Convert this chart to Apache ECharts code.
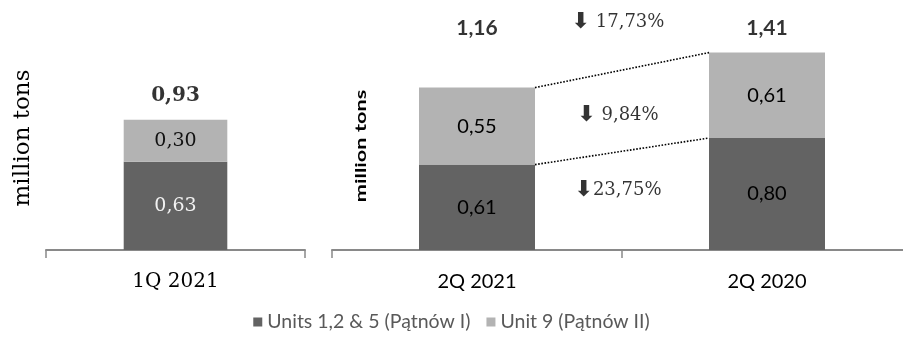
<!DOCTYPE html>
<html>
<head>
<meta charset="utf-8">
<script src="https://cdn.jsdelivr.net/npm/echarts@6/dist/echarts.min.js"></script>
<style>
  html, body { margin: 0; padding: 0; background: #ffffff; }
  #chart { width: 903px; height: 351px; }
</style>
</head>
<body>
<div id="chart"></div>
<script>
// Lignite output by unit group, million tons
const seriesNames = ['Units 1,2 & 5 (Pątnów I)', 'Unit 9 (Pątnów II)'];

const leftCategories = ['1Q 2021'];
const leftUnits125 = [0.63];
const leftUnit9 = [0.30];

const rightCategories = ['2Q 2021', '2Q 2020'];
const rightUnits125 = [0.61, 0.80];
const rightUnit9 = [0.55, 0.61];

// year-on-year change: total, Unit 9, Units 1,2 & 5
const changeTotal = '17,73%';
const changeUnit9 = '9,84%';
const changeUnits125 = '23,75%';

const yMax = 1.6;
const DARK = '#636363';
const LIGHT = '#b3b3b3';
const AXIS = '#898989';
const SERIF = 'DejaVu Serif';
const SANS = 'Lato';

const fmt = v => Number(v).toFixed(2).replace('.', ',');
const sumArr = (a, b) => a.map((v, i) => +(v + b[i]).toFixed(2));

const leftTotals = sumArr(leftUnits125, leftUnit9);
const rightTotals = sumArr(rightUnits125, rightUnit9);
const rightLabelLevel = Math.max(...rightTotals);

// bars take 40% of a category, so their edges sit 0.2 category units from the centre
const half = 0.2;
const connectorTop = [[0 + half, rightTotals[0]], [1 - half, rightTotals[1]]];
const connectorMid = [[0 + half, rightUnits125[0]], [1 - half, rightUnits125[1]]];
const midTop = [0.5, (rightTotals[0] + rightTotals[1]) / 2];
const midMid = [0.5, (rightUnits125[0] + rightUnits125[1]) / 2];

const chart = echarts.init(document.getElementById('chart'), null, { renderer: 'canvas' });

const catAxis = (gridIndex, data, font) => ({
  type: 'category',
  gridIndex,
  data,
  axisLine: { show: true, lineStyle: { color: AXIS, width: 2 } },
  axisTick: { show: true, alignWithLabel: false, length: 8, lineStyle: { color: AXIS, width: 1.5 } },
  axisLabel: { color: '#000', fontFamily: font, fontSize: 20, margin: 22 },
  splitLine: { show: false }
});

const valAxis = (gridIndex, name, nameGap) => ({
  type: 'value',
  gridIndex,
  min: 0,
  max: yMax,
  axisLine: { show: false },
  axisTick: { show: false },
  axisLabel: { show: false },
  splitLine: { show: false },
  name,
  nameLocation: 'middle',
  nameGap,
  nameTextStyle: { color: '#000', fontFamily: SERIF, fontSize: 23 }
});

const arrowRich = {
  a: { fontFamily: 'DejaVu Sans', fontSize: 22, fontWeight: 'bold', color: '#000' },
  t: { fontFamily: SERIF, fontSize: 18, color: '#000' }
};

const changeLabel = (text, position, distance, gap) => ({
  show: true,
  position,
  distance,
  offset: [-4, 0],
  formatter: '{a|⬇}{t|' + gap + text + '}',
  rich: arrowRich
});

chart.setOption({
  animation: false,
  backgroundColor: '#ffffff',
  grid: [
    { left: 46, width: 259, top: 26, height: 224, outerBoundsMode: 'none' },
    { left: 332, width: 580, top: 26, height: 224, outerBoundsMode: 'none' }
  ],
  xAxis: [
    catAxis(0, leftCategories, SERIF),
    catAxis(1, rightCategories, SANS),
    { type: 'value', gridIndex: 1, min: -0.5, max: 1.5, show: false }
  ],
  yAxis: [
    valAxis(0, 'million tons', 11),
    { type: 'value', gridIndex: 1, min: 0, max: yMax, show: false }
  ],
  graphic: [
    {
      // axis title of the quarterly panel, drawn inside the plot
      type: 'text',
      x: 361,
      y: 146,
      rotation: Math.PI / 2,
      scaleX: 1.36,
      style: {
        text: 'million tons',
        fill: '#000',
        font: 'bold 16px Lato',
        align: 'center',
        verticalAlign: 'middle'
      }
    }
  ],
  legend: {
    data: seriesNames,
    bottom: 14,
    left: 'center',
    icon: 'rect',
    itemWidth: 9,
    itemHeight: 9,
    itemGap: 16,
    textStyle: { color: '#595959', fontFamily: SANS, fontSize: 19.5 }
  },
  series: [
    {
      name: seriesNames[0], type: 'bar', xAxisIndex: 0, yAxisIndex: 0, stack: 'left',
      data: leftUnits125, barWidth: '40%', itemStyle: { color: DARK },
      label: { show: true, position: 'inside', formatter: p => fmt(p.value),
               color: '#f2f2f2', fontFamily: SERIF, fontSize: 19 }
    },
    {
      name: seriesNames[1], type: 'bar', xAxisIndex: 0, yAxisIndex: 0, stack: 'left',
      data: leftUnit9, barWidth: '40%', itemStyle: { color: LIGHT },
      label: { show: true, position: 'inside', formatter: p => fmt(p.value),
               color: '#111', fontFamily: SERIF, fontSize: 19 }
    },
    {
      name: seriesNames[0], type: 'bar', xAxisIndex: 1, yAxisIndex: 1, stack: 'right',
      data: rightUnits125, barWidth: '40%', itemStyle: { color: DARK },
      label: { show: true, position: 'inside', formatter: p => fmt(p.value),
               color: '#000', fontFamily: SANS, fontSize: 20 }
    },
    {
      name: seriesNames[1], type: 'bar', xAxisIndex: 1, yAxisIndex: 1, stack: 'right',
      data: rightUnit9, barWidth: '40%', itemStyle: { color: LIGHT },
      label: { show: true, position: 'inside', formatter: p => fmt(p.value),
               color: '#000', fontFamily: SANS, fontSize: 20 }
    },
    {
      // totals above the 1Q bar
      type: 'scatter', xAxisIndex: 0, yAxisIndex: 0, symbolSize: 0, silent: true,
      data: leftTotals.map((t, i) => [i, t]),
      label: { show: true, position: 'top', distance: 14, formatter: p => fmt(p.value[1]),
               color: '#000', fontFamily: SERIF, fontSize: 20, fontWeight: 'bold' }
    },
    {
      // quarterly totals, aligned on the taller bar
      type: 'scatter', xAxisIndex: 1, yAxisIndex: 1, symbolSize: 0, silent: true,
      data: rightTotals.map((t, i) => [i, rightLabelLevel]),
      label: { show: true, position: 'top', distance: 14,
               formatter: p => fmt(rightTotals[p.dataIndex]),
               color: '#000', fontFamily: SANS, fontSize: 21, fontWeight: 'bold' }
    },
    {
      type: 'line', xAxisIndex: 2, yAxisIndex: 1, data: connectorTop, symbol: 'none', silent: true,
      lineStyle: { color: '#000', width: 1.6, type: [1.6, 1.6] }
    },
    {
      type: 'line', xAxisIndex: 2, yAxisIndex: 1, data: connectorMid, symbol: 'none', silent: true,
      lineStyle: { color: '#000', width: 1.6, type: [1.6, 1.6] }
    },
    {
      type: 'scatter', xAxisIndex: 2, yAxisIndex: 1, symbolSize: 0, silent: true, clip: false,
      data: [
        { value: midTop, label: changeLabel(changeTotal, 'top', 37, ' ') },
        { value: midMid, label: changeLabel(changeUnit9, 'top', 25, ' ') },
        { value: midMid, label: changeLabel(changeUnits125, 'bottom', 28, '') }
      ]
    }
  ]
});
</script>
</body>
</html>
